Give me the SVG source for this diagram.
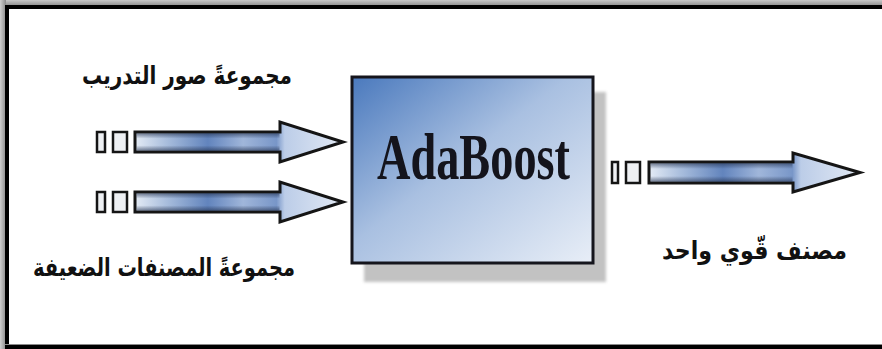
<svg xmlns="http://www.w3.org/2000/svg" width="882" height="349" viewBox="0 0 882 349">
  <defs>
    <linearGradient id="frameTop" x1="0" y1="0" x2="0" y2="1">
      <stop offset="0" stop-color="#c8c8c8"/>
      <stop offset="1" stop-color="#8a8a8a"/>
    </linearGradient>
    <linearGradient id="frameLeft" x1="0" y1="0" x2="1" y2="0">
      <stop offset="0" stop-color="#d0d0d0"/>
      <stop offset="1" stop-color="#8a8a8a"/>
    </linearGradient>
    <linearGradient id="boxFill" x1="0" y1="0" x2="1" y2="1">
      <stop offset="0" stop-color="#4a79bd"/>
      <stop offset="0.45" stop-color="#a9c0e1"/>
      <stop offset="1" stop-color="#e8eef7"/>
    </linearGradient>
    <linearGradient id="shaftFill" x1="0" y1="0" x2="1" y2="0">
      <stop offset="0" stop-color="#e4ebf5"/>
      <stop offset="0.15" stop-color="#a9bedd"/>
      <stop offset="0.35" stop-color="#6284bd"/>
      <stop offset="0.52" stop-color="#a0b6da"/>
      <stop offset="0.68" stop-color="#7896c8"/>
      <stop offset="0.72" stop-color="#bccde8"/>
      <stop offset="1" stop-color="#e2e9f4"/>
    </linearGradient>
    <linearGradient id="shaftShade" x1="0" y1="0" x2="0" y2="1">
      <stop offset="0" stop-color="#1c2a48" stop-opacity="0.55"/>
      <stop offset="0.3" stop-color="#1c2a48" stop-opacity="0"/>
      <stop offset="0.7" stop-color="#1c2a48" stop-opacity="0"/>
      <stop offset="1" stop-color="#1c2a48" stop-opacity="0.55"/>
    </linearGradient>
    <filter id="soft" x="-10%" y="-10%" width="120%" height="120%">
      <feGaussianBlur stdDeviation="1.5"/>
    </filter>
  </defs>
  <style>
    .arrow { fill: url(#shaftFill); stroke: #151515; stroke-width: 3; stroke-linejoin: miter; }
    .shade { fill: url(#shaftShade); }
    .port { fill: #eef0f3; stroke: #151515; stroke-width: 2.5; }
    .lbl { font-family: "DejaVu Sans", "Noto Sans", sans-serif; font-weight: bold; font-size: 25px; fill: #111; text-anchor: middle; }
    .title { font-family: "Liberation Serif", "Times New Roman", serif; font-weight: bold; font-size: 66px; fill: #14141c; text-anchor: middle; }
  </style>

  <!-- page background and frame -->
  <rect x="0" y="0" width="882" height="349" fill="#ffffff"/>
  <rect x="0" y="0" width="882" height="6" fill="url(#frameTop)"/>
  <rect x="0" y="0" width="6" height="349" fill="url(#frameLeft)"/>
  <rect x="5" y="5" width="877" height="4" fill="#000"/>
  <rect x="5" y="5" width="4" height="344" fill="#000"/>
  <rect x="5" y="344" width="877" height="1" fill="#8a8a8a"/>
  <rect x="5" y="345" width="877" height="4" fill="#000"/>

  <!-- central block -->
  <g id="adaboost">
    <rect x="364" y="92" width="242" height="190" fill="#c2c2c2" filter="url(#soft)"/>
    <rect x="352" y="77" width="241" height="186" fill="url(#boxFill)" stroke="#15151c" stroke-width="3"/>
    <text class="title" x="473.5" y="179" textLength="193" lengthAdjust="spacingAndGlyphs">AdaBoost</text>
  </g>

  <!-- labels -->
  <g id="training-set">
    <text class="lbl" x="187" y="84" textLength="210" lengthAdjust="spacingAndGlyphs">مجموعةً صور التدريب</text>
  </g>
  <g id="weak-classifiers">
    <text class="lbl" x="164" y="276" textLength="262" lengthAdjust="spacingAndGlyphs">مجموعةً المصنفات الضعيفة</text>
  </g>
  <g id="strong-classifier">
    <text class="lbl" x="754.5" y="259" textLength="185" lengthAdjust="spacingAndGlyphs">مصنف قّوي واحد</text>
  </g>

  <!-- connectors -->
  <g id="connectors">
    <g id="input-images">
      <rect class="port" x="97" y="132" width="8" height="20"/>
      <rect class="port" x="113" y="132" width="14" height="20"/>
      <path class="arrow" d="M135,132 H280 V122 L343,142 L280,162 V152 H135 Z"/>
      <rect class="shade" x="136.5" y="133.5" width="143" height="17"/>
    </g>
    <g id="input-classifiers">
      <rect class="port" x="97" y="192" width="8" height="20"/>
      <rect class="port" x="113" y="192" width="14" height="20"/>
      <path class="arrow" d="M135,192 H280 V182 L343,202 L280,222 V212 H135 Z"/>
      <rect class="shade" x="136.5" y="193.5" width="143" height="17"/>
    </g>
    <g id="output">
      <rect class="port" x="612" y="162" width="6" height="21"/>
      <rect class="port" x="626" y="162" width="14" height="21"/>
      <path class="arrow" d="M649,162 H793 V153 L860,172.5 L793,192 V183 H649 Z"/>
      <rect class="shade" x="650.5" y="163.5" width="142" height="18"/>
    </g>
  </g>
</svg>
